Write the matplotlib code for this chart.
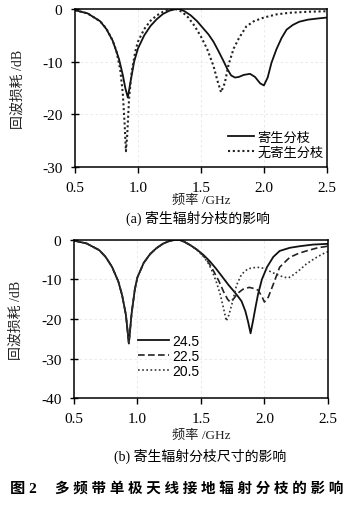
import matplotlib
matplotlib.use("Agg")
import matplotlib.pyplot as plt

plt.rcParams['font.family'] = ['Liberation Serif', 'Noto Sans CJK SC', 'DejaVu Sans']

# (a) with / without parasitic branch
freq_a_with = [0.5, 0.6, 0.7, 0.75, 0.8, 0.85, 0.88, 0.9, 0.92, 0.94, 0.97, 1.0, 1.05, 1.1,
               1.15, 1.2, 1.25, 1.3, 1.33, 1.37, 1.42, 1.47, 1.52, 1.56, 1.6, 1.64, 1.68,
               1.71, 1.74, 1.77, 1.8, 1.84, 1.89, 1.93, 1.97, 2.0, 2.03, 2.06, 2.1, 2.14,
               2.18, 2.23, 2.28, 2.35, 2.42, 2.5]
rl_a_with = [-0.2, -0.8, -2.3, -3.8, -6.0, -9.5, -12.5, -15.0, -16.8, -14.0, -10.0, -7.5,
             -5.0, -3.2, -1.9, -0.9, -0.3, 0.0, 0.0, -0.4, -1.2, -2.3, -3.7, -4.8, -6.2,
             -8.0, -9.9, -11.4, -12.6, -13.0, -12.9, -12.5, -12.3, -12.9, -14.1, -14.5,
             -13.0, -10.2, -7.6, -5.5, -3.9, -3.0, -2.4, -2.0, -1.8, -1.6]

freq_a_without = [0.5, 0.6, 0.7, 0.75, 0.8, 0.83, 0.86, 0.88, 0.895, 0.905, 0.915, 0.93,
                  0.95, 0.98, 1.0, 1.05, 1.1, 1.15, 1.2, 1.25, 1.3, 1.35, 1.4, 1.45, 1.5,
                  1.55, 1.6, 1.63, 1.66, 1.69, 1.72, 1.76, 1.8, 1.86, 1.92, 2.0, 2.1, 2.2,
                  2.35, 2.5]
rl_a_without = [-0.2, -0.8, -2.3, -3.7, -6.0, -8.0, -11.5, -16.0, -22.0, -27.0, -24.0,
                -17.0, -12.0, -8.0, -6.2, -3.8, -2.2, -1.2, -0.5, -0.1, 0.0, -0.5, -1.6,
                -3.2, -5.2, -7.6, -10.8, -13.5, -15.8, -14.0, -10.5, -7.5, -5.6, -3.3,
                -2.3, -1.6, -1.0, -0.7, -0.5, -0.4]

# (b) branch length
freq_b_245 = [0.5, 0.6, 0.7, 0.75, 0.8, 0.85, 0.88, 0.91, 0.933, 0.955, 0.98, 1.0, 1.05,
              1.1, 1.15, 1.2, 1.25, 1.3, 1.33, 1.37, 1.42, 1.47, 1.52, 1.57, 1.62, 1.67,
              1.72, 1.76, 1.79, 1.82, 1.85, 1.87, 1.891, 1.91, 1.93, 1.95, 1.98, 2.02,
              2.07, 2.12, 2.2, 2.28, 2.38, 2.5]
rl_b_245 = [-0.2, -0.9, -2.6, -4.3, -6.8, -10.5, -14.0, -19.0, -26.2, -18.5, -12.5, -9.5,
            -5.8, -3.6, -2.1, -1.0, -0.3, 0.0, 0.0, -0.5, -1.4, -2.5, -3.8, -5.4, -7.3,
            -9.4, -11.5, -13.0, -14.2, -15.5, -18.0, -20.5, -23.6, -20.5, -17.0, -13.7,
            -10.0, -6.9, -4.3, -2.8, -2.0, -1.6, -1.2, -1.0]

freq_b_225 = [0.5, 0.6, 0.7, 0.75, 0.8, 0.85, 0.88, 0.91, 0.933, 0.955, 0.98, 1.0, 1.05,
              1.1, 1.15, 1.2, 1.25, 1.3, 1.33, 1.37, 1.42, 1.47, 1.52, 1.56, 1.6, 1.64,
              1.68, 1.71, 1.73, 1.76, 1.79, 1.83, 1.88, 1.92, 1.95, 1.98, 2.0, 2.03, 2.07,
              2.12, 2.2, 2.27, 2.33, 2.42, 2.5]
rl_b_225 = [-0.2, -0.9, -2.6, -4.3, -6.8, -10.5, -14.0, -19.0, -26.2, -18.5, -12.5, -9.5,
            -5.8, -3.6, -2.1, -1.0, -0.3, 0.0, 0.0, -0.5, -1.4, -2.5, -4.0, -5.7, -7.9,
            -10.3, -13.2, -15.0, -15.7, -14.8, -13.5, -12.5, -12.0, -12.3, -12.7, -14.3,
            -15.7, -14.5, -11.2, -6.9, -4.4, -3.4, -2.8, -2.0, -1.6]

freq_b_205 = [0.5, 0.6, 0.7, 0.75, 0.8, 0.85, 0.88, 0.91, 0.933, 0.955, 0.98, 1.0, 1.05,
              1.1, 1.15, 1.2, 1.25, 1.3, 1.33, 1.37, 1.42, 1.47, 1.52, 1.56, 1.59, 1.62,
              1.65, 1.68, 1.70, 1.72, 1.75, 1.78, 1.82, 1.87, 1.94, 2.0, 2.04, 2.1, 2.15,
              2.19, 2.22, 2.27, 2.33, 2.4, 2.48, 2.5]
rl_b_205 = [-0.2, -0.9, -2.6, -4.3, -6.8, -10.5, -14.0, -19.0, -26.2, -18.5, -12.5, -9.5,
            -5.8, -3.6, -2.1, -1.0, -0.3, 0.0, 0.0, -0.5, -1.4, -2.6, -4.2, -6.0, -8.0,
            -10.5, -13.5, -17.5, -20.5, -19.0, -15.5, -11.5, -8.7, -7.3, -6.9, -7.2,
            -7.9, -8.8, -9.4, -9.6, -9.0, -7.8, -6.1, -4.6, -3.2, -3.0]

ticks_x = [0.5, 1.0, 1.5, 2.0, 2.5]
ticklabels_x = ['0.5', '1.0', '1.5', '2.0', '2.5']
labels_a = ['寄生分枝', '无寄生分枝']
labels_b = ['24.5', '22.5', '20.5']

fig = plt.figure(figsize=(3.5, 5.06), dpi=100)
ax1 = fig.add_axes([0.214, 0.668, 0.72, 0.312])
ax2 = fig.add_axes([0.211, 0.211, 0.726, 0.313])

ax1.plot(freq_a_with, rl_a_with, color='#111111', lw=1.3, label=labels_a[0])
ax1.plot(freq_a_without, rl_a_without, color='#222222', lw=1.5, ls=(0, (1, 1.3)),
         label=labels_a[1])
ax1.set_ylim(-30, 0)
ax1.set_yticks([-30, -20, -10, 0])
ax1.set_yticklabels(['-30', '-20', '-10', '0'])
ax1.legend(loc='upper left', bbox_to_anchor=(0.58, 0.27), frameon=False, borderpad=0,
           handlelength=2.0, handletextpad=0.25, labelspacing=0.15,
           prop={'family': ['Noto Sans CJK SC'], 'size': 9.5})

ax2.plot(freq_b_245, rl_b_245, color='#111111', lw=1.3, label=labels_b[0])
ax2.plot(freq_b_225, rl_b_225, color='#222222', lw=1.2, ls=(0, (4, 2)), label=labels_b[1])
ax2.plot(freq_b_205, rl_b_205, color='#333333', lw=1.2, ls=(0, (1, 1.5)), label=labels_b[2])
ax2.set_ylim(-40, 0)
ax2.set_yticks([-40, -30, -20, -10, 0])
ax2.set_yticklabels(['-40', '-30', '-20', '-10', '0'])
ax2.legend(loc='upper left', bbox_to_anchor=(0.225, 0.45), frameon=False, borderpad=0,
           handlelength=2.2, handletextpad=0.3, labelspacing=0.06,
           prop={'family': ['Liberation Sans'], 'size': 10})

for ax in (ax1, ax2):
    ax.set_xlim(0.5, 2.5)
    ax.set_xticks(ticks_x)
    ax.set_xticklabels(ticklabels_x)
    ax.grid(True, color='#e6e6e6', lw=0.6, ls=(0, (3, 3)))
    ax.tick_params(axis='y', direction='inout', length=6, width=1.0, labelsize=11, pad=6)
    ax.tick_params(axis='x', direction='out', length=4, width=1.0, labelsize=11, pad=6)
    for sp in ax.spines.values():
        sp.set_linewidth(1.1)
    ax.set_ylabel('回波损耗 /dB', fontsize=10, color='#222222')
    ax.yaxis.set_label_coords(-0.2, 0.5)
    ax.set_xlabel('频率 /GHz', fontsize=9.5, color='#222222')

ax1.xaxis.set_label_coords(0.5, -0.17)
ax2.xaxis.set_label_coords(0.5, -0.19)

fig.text(0.565, 0.569, '(a) 寄生辐射分枝的影响', ha='center', va='center', fontsize=10)
fig.text(0.572, 0.099, '(b) 寄生辐射分枝尺寸的影响', ha='center', va='center', fontsize=10)
fig.text(0.03, 0.032, '图 2', ha='left', va='center', fontsize=11, fontweight='bold')
fig.text(0.98, 0.032, ' '.join('多频带单极天线接地辐射分枝的影响'), ha='right', va='center',
         fontsize=10.5, fontweight='bold')

fig.savefig('out.png', dpi=100, facecolor='white')
